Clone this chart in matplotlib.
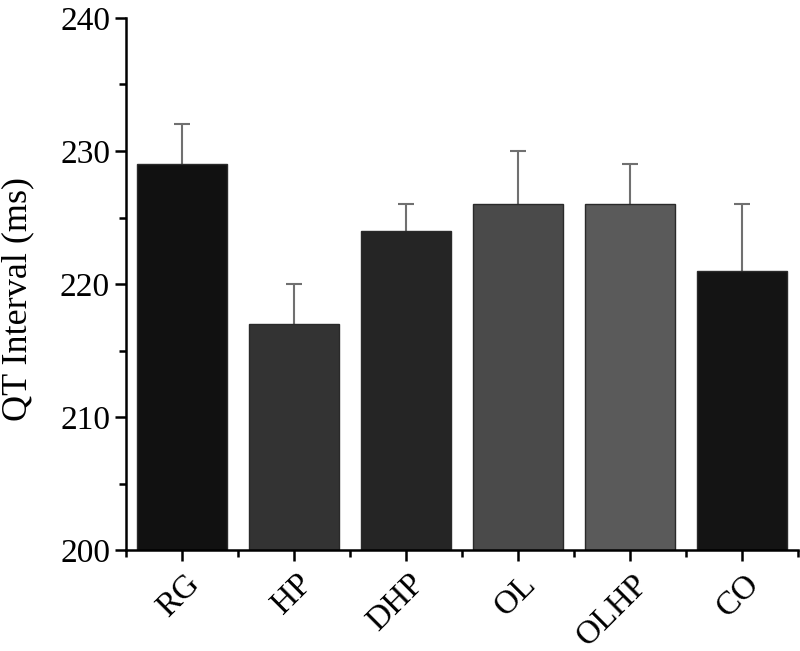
import numpy as np
import matplotlib
matplotlib.use("Agg")
import matplotlib.pyplot as plt
import matplotlib.transforms as mtransforms
from matplotlib.ticker import MultipleLocator

groups = ["RG", "HP", "DHP", "OL", "OLHP", "CO"]
qt_mean = [229, 217, 224, 226, 226, 221]
qt_err = [3, 3, 2, 4, 3, 5]
bar_colors = ["#111111", "#333333", "#252525", "#4a4a4a", "#5a5a5a", "#141414"]

plt.rcParams["font.family"] = ["Liberation Serif", "DejaVu Serif"]

fig = plt.figure(figsize=(8, 6.51), dpi=100)
ax = fig.add_axes([0.1575, 0.155, 0.84, 0.8174])

x = np.arange(len(groups))
# only upper error bars, drawn under the bars
eb = ax.errorbar(x, qt_mean, yerr=[np.zeros(len(qt_err)), qt_err], fmt="none",
                 ecolor="#707070", elinewidth=1.5, capsize=6, capthick=1.5, zorder=1)
eb[1][0].set_visible(False)
ax.bar(x, qt_mean, width=0.8, color=bar_colors, edgecolor="#2a2a2a",
       linewidth=1.0, zorder=2)

ax.set_xlim(-0.5, 5.5)
ax.set_ylim(200, 240)
ax.yaxis.set_major_locator(MultipleLocator(10))
ax.yaxis.set_minor_locator(MultipleLocator(5))
ax.set_xticks(x)
ax.set_xticks(np.arange(-0.5, 6.0, 1.0), minor=True)
ax.set_xticklabels(groups, rotation=45, ha="right", va="center",
                   rotation_mode="anchor")

for s in ["top", "right"]:
    ax.spines[s].set_visible(False)
for s in ["left", "bottom"]:
    ax.spines[s].set_linewidth(1.8)

ax.tick_params(which="major", direction="out", length=8, width=1.8, labelsize=24)
ax.tick_params(which="minor", direction="out", length=5, width=1.8)
ax.tick_params(axis="x", which="major", pad=13)

shift = mtransforms.ScaledTranslation(13 / 100, 0, fig.dpi_scale_trans)
for lab in ax.get_xticklabels():
    lab.set_transform(lab.get_transform() + shift)

ax.set_ylabel("QT Interval (ms)", fontsize=26)
ax.yaxis.set_label_coords(-0.137, 0.472)

plt.savefig("out.png", dpi=100)
